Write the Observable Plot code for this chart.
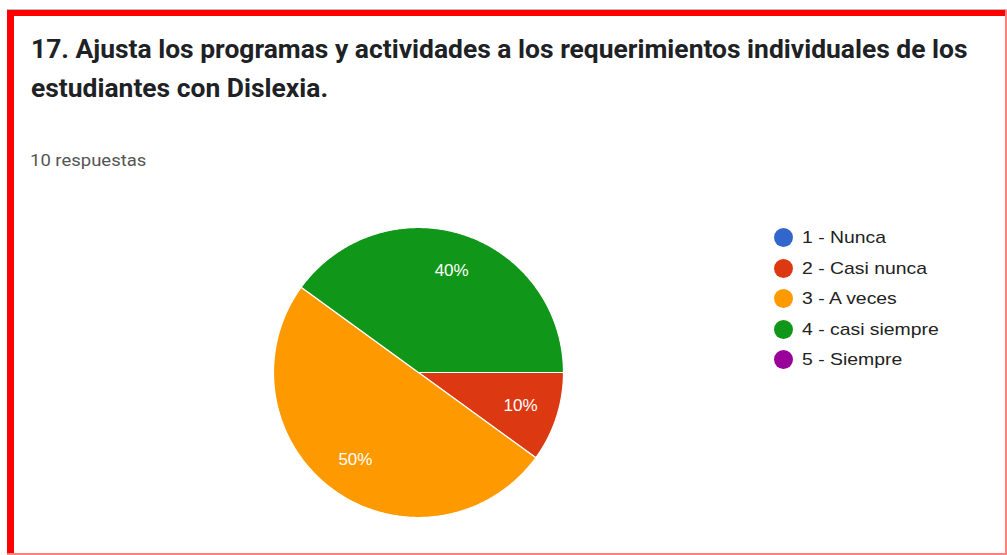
<!DOCTYPE html>
<html>
<head>
<meta charset="utf-8">
<script src="https://cdn.jsdelivr.net/npm/d3@7"></script>
<script src="https://cdn.jsdelivr.net/npm/@observablehq/plot@0.6"></script>
<style>
  html, body { margin: 0; padding: 0; background: #fff; }
  #page { position: relative; width: 1007px; height: 555px; overflow: hidden; background: #fff; }
  .bar { position: absolute; }
  #title { position: absolute; left: 31px; top: 30px; font-family: Roboto, "Liberation Sans", sans-serif; font-weight: 700; font-size: 25px; line-height: 39px; color: #202124; white-space: nowrap; transform: scaleX(1.057); transform-origin: 0 0; }
  #count { position: absolute; left: 30px; top: 151px; font-family: Roboto, sans-serif; font-size: 16.5px; color: #555; white-space: nowrap; transform: scaleX(1.12); transform-origin: 0 0; }
  #pie { position: absolute; left: 268px; top: 222px; }
  #legend { position: absolute; left: 774px; top: 228px; font-family: Arial, "Liberation Sans", sans-serif; font-size: 17px; color: #222; }
  .item { height: 30.5px; display: flex; align-items: flex-start; }
  .sw { width: 19px; height: 19px; border-radius: 50%; margin-right: 9px; margin-top: 0px; flex: none; }
  .lab { display: inline-block; white-space: nowrap; transform: scaleX(1.14); transform-origin: 0 0; line-height: 19px; }
</style>
</head>
<body>
<div id="page">
  <div class="bar" style="left:7px;top:9px;width:1000px;height:1px;background:#bbb"></div>
  <div class="bar" style="left:7px;top:10px;width:1000px;height:6px;background:#ff0000"></div>
  <div class="bar" style="left:7px;top:10px;width:7px;height:545px;background:#ff0000"></div>
  <div class="bar" style="left:1005px;top:10px;width:2px;height:545px;background:#ff8080"></div>
  <div class="bar" style="left:7px;top:553px;width:1000px;height:2px;background:#ff8080"></div>
  <div id="title"></div>
  <div id="count"></div>
  <div id="pie"></div>
  <div id="legend"></div>
</div>
<script>
const titleLines = ["17. Ajusta los programas y actividades a los requerimientos individuales de los", "estudiantes con Dislexia."];
const responsesLabel = "10 respuestas";
const categories = ["1 - Nunca", "2 - Casi nunca", "3 - A veces", "4 - casi siempre", "5 - Siempre"];
const counts = [0, 1, 5, 4, 0];
const colors = ["#3366cc", "#dc3912", "#ff9900", "#109618", "#990099"];

document.getElementById("title").innerHTML = titleLines.join("<br>");
document.getElementById("count").textContent = responsesLabel;

const total = d3.sum(counts);
const data = categories.map((c, i) => ({cat: c, value: counts[i]}));
const arcs = d3.pie().value(d => d.value).sort(null)
  .startAngle(Math.PI / 2).endAngle(Math.PI / 2 + 2 * Math.PI)(data)
  .filter(a => a.data.value > 0);

const pts = [];
for (const a of arcs) {
  pts.push({cat: a.data.cat, x: 0, y: 0});
  const n = Math.max(2, Math.ceil((a.endAngle - a.startAngle) / (Math.PI / 360)));
  for (let k = 0; k <= n; k++) {
    const t = a.startAngle + (a.endAngle - a.startAngle) * k / n;
    pts.push({cat: a.data.cat, x: Math.sin(t), y: Math.cos(t)});
  }
  pts.push({cat: a.data.cat, x: 0, y: 0});
}
const labels = arcs.map(a => {
  const m = (a.startAngle + a.endAngle) / 2;
  return {x: 0.74 * Math.sin(m), y: 0.74 * Math.cos(m), text: Math.round(a.data.value / total * 100) + "%"};
});

const chart = Plot.plot({
  width: 300, height: 300, margin: 5,
  x: {domain: [-1, 1], axis: null},
  y: {domain: [-1, 1], axis: null},
  color: {domain: categories, range: colors},
  style: {background: "transparent"},
  marks: [
    Plot.line(pts, {x: "x", y: "y", z: "cat", fill: "cat", stroke: "white", strokeWidth: 1.2, curve: "linear"}),
    Plot.text(labels, {x: "x", y: "y", text: "text", fill: "white", fontSize: 17, fontFamily: "Arial, 'Liberation Sans', sans-serif"})
  ]
});
document.getElementById("pie").appendChild(chart);

const legend = document.getElementById("legend");
categories.forEach((c, i) => {
  const row = document.createElement("div");
  row.className = "item";
  const sw = document.createElement("div");
  sw.className = "sw";
  sw.style.background = colors[i];
  const lab = document.createElement("span");
  lab.className = "lab";
  lab.textContent = c;
  row.appendChild(sw);
  row.appendChild(lab);
  legend.appendChild(row);
});
</script>
</body>
</html>
